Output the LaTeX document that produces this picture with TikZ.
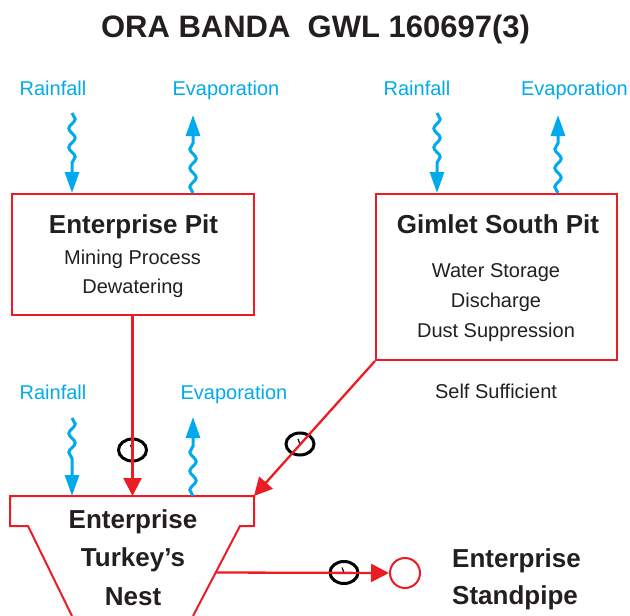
\documentclass[tikz,border=0pt]{standalone}
\usepackage{fontspec}
\setmainfont{Liberation Sans}
\usetikzlibrary{arrows.meta,decorations.pathmorphing,shapes.geometric}
\definecolor{pipered}{RGB}{236,28,36}
\definecolor{waterblue}{RGB}{0,170,236}
\definecolor{inkdark}{RGB}{35,31,32}
\tikzset{
  titletext/.style={anchor=base,inner sep=0pt,text=inkdark,font=\fontsize{31}{36}\selectfont\bfseries},
  nametext/.style={anchor=base,inner sep=0pt,text=inkdark,font=\fontsize{26}{30}\selectfont\bfseries},
  notetext/.style={anchor=base,inner sep=0pt,text=inkdark,font=\fontsize{20}{24}\selectfont},
  fluxtext/.style={anchor=base,inner sep=0pt,text=waterblue,font=\fontsize{20}{24}\selectfont},
  pitbox/.style={draw=pipered,line width=2pt,rectangle,inner sep=0pt},
  pipeline/.style={draw=pipered,line width=2.3pt},
  pipearrow/.style={pipeline,-{Triangle[length=18pt,width=18pt]}},
  rainwave/.style={draw=waterblue,line width=3pt,decorate,
    decoration={snake,amplitude=3.2pt,segment length=19pt,post length=30pt},
    -{Triangle[length=21pt,width=14pt]}},
  evapwave/.style={draw=waterblue,line width=3pt,decorate,
    decoration={snake,amplitude=3.2pt,segment length=19pt,post length=24pt},
    -{Triangle[length=21pt,width=14pt]}},
  meter/.style={draw=black,line width=3pt,ellipse,minimum width=28pt,minimum height=22pt,inner sep=0pt,
    path picture={\draw[line width=1.2pt] (path picture bounding box.center) -- ++(-2pt,5pt);}},
  standpipe/.style={draw=pipered,line width=2pt,circle,minimum size=30pt,inner sep=0pt}
}
\begin{document}
\begin{tikzpicture}[x=1pt,y=-1pt]
\useasboundingbox (0,0) rectangle (630,616);

% title
\node[titletext] (title) at (315.5,37) {ORA BANDA\ \ GWL 160697(3)};

% top flux labels
\node[fluxtext] (rf1) at (53,95) {Rainfall};
\node[fluxtext] (ev1) at (226,95) {Evaporation};
\node[fluxtext] (rf2) at (417,95) {Rainfall};
\node[fluxtext] (ev2) at (574.5,95) {Evaporation};

% pits
\node[pitbox,minimum width=242pt,minimum height=121pt] (ep) at (132.5,254.5) {};
\node[nametext] (eptitle) at (133.5,233) {Enterprise Pit};
\node[notetext] (epa) at (132.5,264) {Mining Process};
\node[notetext] (epb) at (133,293) {Dewatering};

\node[pitbox,minimum width=241pt,minimum height=166pt] (gs) at (496.5,277) {};
\node[nametext] (gstitle) at (498,233) {Gimlet South Pit};
\node[notetext] (gsa) at (496,277) {Water Storage};
\node[notetext] (gsb) at (496,307) {Discharge};
\node[notetext] (gsc) at (496,337) {Dust Suppression};
\node[notetext] (gsd) at (496,398) {Self Sufficient};

% wave start / end coordinates
\coordinate (r1s) at (72,113);
\coordinate (e1e) at (193,115);
\coordinate (r2s) at (437,113);
\coordinate (e2e) at (558,115);

\draw[rainwave] (r1s) -- (r1s |- ep.north);
\draw[evapwave] (e1e |- ep.north) -- (e1e);
\draw[rainwave] (r2s) -- (r2s |- gs.north);
\draw[evapwave] (e2e |- gs.north) -- (e2e);

% middle flux labels
\node[fluxtext] (rf3) at (53,399) {Rainfall};
\node[fluxtext] (ev3) at (234,399) {Evaporation};

% turkey's nest
\coordinate (nt) at (10,496);
\draw[pitbox] (72,616) -- (28,526) -- (10,526) -- (nt) -- (254,496) -- (254,526) -- (240,526) -- (193,616);
\node[nametext] (tna) at (133,528) {Enterprise};
\node[nametext] (tnb) at (133,566) {Turkey’s};
\node[nametext] (tnc) at (133,605) {Nest};

\coordinate (r3s) at (72,418);
\coordinate (e3e) at (193,417);
\draw[rainwave] (r3s) -- (r3s |- nt);
\draw[evapwave] (e3e |- nt) -- (e3e);

% standpipe
\node[standpipe] (sp) at (405,573) {};
\node[nametext,anchor=base west] (spa) at (452,567) {Enterprise};
\node[nametext,anchor=base west] (spb) at (452,604) {Standpipe};

% meters
\node[meter] (m1) at (132.5,450) {};
\node[meter] (m2) at (300,444) {};
\node[meter] (m3) at (344,572.5) {};

% pipes
\coordinate (in1) at (132.5,496);
\coordinate (in2) at (254,496);
\coordinate (out1) at (215,572.5);
\draw[pipearrow] (ep.south) -- (in1);
\draw[pipearrow] (gs.south west) -- (in2);
\draw[pipearrow] (out1) -- (sp.west);
\end{tikzpicture}
\end{document}
